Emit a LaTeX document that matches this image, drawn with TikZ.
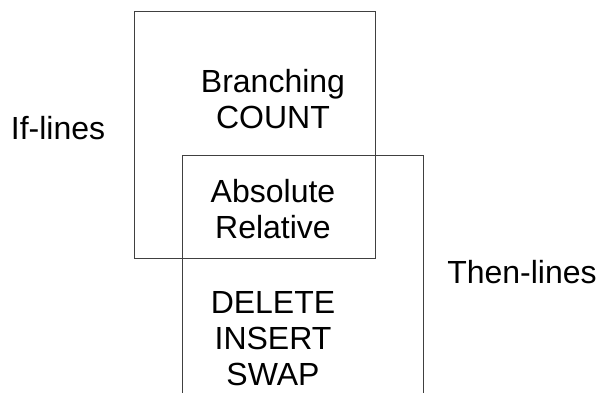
\documentclass[tikz,border=0pt]{standalone}
\usepackage{fontspec}
\setmainfont{Liberation Sans}
\usetikzlibrary{positioning}

\begin{document}
\begin{tikzpicture}[
  x=1pt,y=-1pt,
  setbox/.style={draw=black!75,line width=0.8pt,minimum width=241pt,minimum height=247pt,inner sep=0pt},
  member/.style={align=center,inner sep=0pt,font=\fontsize{32pt}{36pt}\selectfont},
  setname/.style={inner sep=0pt,anchor=base,font=\fontsize{32pt}{36pt}\selectfont}
]
\clip (0,0) rectangle (600,392);
\node[setbox] (ifset) at (254.5,134.5) {};
\node[setbox] (thenset) at (302.5,278.5) {};
\node[member] (branch) at (273,99.5) {Branching\\COUNT};
\node[member] (both) at (273,209.5) {Absolute\\Relative};
\node[member] (edit) at (273,338.5) {DELETE\\INSERT\\SWAP};
\node[setname] (iflabel) at (58,139) {If-lines};
\node[setname] (thenlabel) at (522,283) {Then-lines};
\end{tikzpicture}
\end{document}
